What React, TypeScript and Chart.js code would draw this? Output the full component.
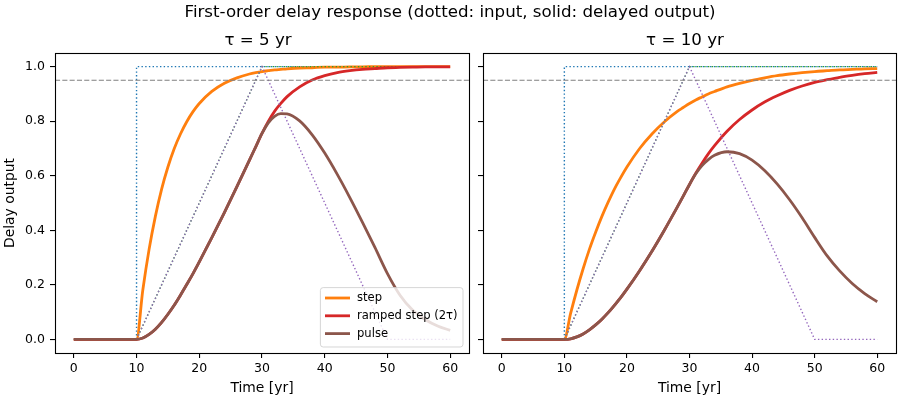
import React, { useEffect, useRef } from "react";
import { Chart, registerables } from "chart.js";

Chart.register(...registerables);

// ---------- data ----------
const TIME = [0, 10, 11, 12, 13, 14, 15, 16, 17, 18, 19, 20, 22, 24, 26, 28, 29, 30, 31, 32, 33, 34, 36, 38, 40, 42, 44, 46, 48, 50, 52, 54, 56, 58, 60];

// tau = 5 yr
const STEP_OUT_TAU5 = [0, 0, 0.181, 0.33, 0.451, 0.551, 0.632, 0.699, 0.753, 0.798, 0.835, 0.865, 0.909, 0.939, 0.959, 0.973, 0.978, 0.982, 0.985, 0.988, 0.99, 0.992, 0.995, 0.996, 0.998, 0.998, 0.999, 0.999, 1.0, 1.0, 1.0, 1.0, 1.0, 1.0, 1.0];
const RAMP_OUT_TAU5 = [0, 0, 0.005, 0.018, 0.037, 0.062, 0.092, 0.125, 0.162, 0.201, 0.241, 0.284, 0.373, 0.465, 0.56, 0.657, 0.706, 0.755, 0.799, 0.836, 0.865, 0.89, 0.926, 0.951, 0.967, 0.978, 0.985, 0.99, 0.993, 0.996, 0.997, 0.998, 0.999, 0.999, 0.999];
const PULSE_OUT_TAU5 = [0, 0, 0.005, 0.018, 0.037, 0.062, 0.092, 0.125, 0.162, 0.201, 0.241, 0.284, 0.373, 0.465, 0.56, 0.657, 0.706, 0.755, 0.794, 0.818, 0.828, 0.827, 0.801, 0.75, 0.683, 0.605, 0.52, 0.43, 0.337, 0.241, 0.162, 0.108, 0.073, 0.049, 0.033];

// tau = 10 yr
const STEP_OUT_TAU10 = [0, 0, 0.095, 0.181, 0.259, 0.33, 0.393, 0.451, 0.503, 0.551, 0.593, 0.632, 0.699, 0.753, 0.798, 0.835, 0.85, 0.865, 0.878, 0.889, 0.9, 0.909, 0.926, 0.939, 0.95, 0.959, 0.967, 0.973, 0.978, 0.982, 0.985, 0.988, 0.99, 0.992, 0.993];
const RAMP_OUT_TAU10 = [0, 0, 0.002, 0.009, 0.02, 0.035, 0.053, 0.074, 0.098, 0.125, 0.153, 0.184, 0.251, 0.323, 0.401, 0.483, 0.525, 0.568, 0.609, 0.646, 0.68, 0.71, 0.763, 0.806, 0.841, 0.87, 0.893, 0.913, 0.929, 0.942, 0.952, 0.961, 0.968, 0.974, 0.979];
const PULSE_OUT_TAU10 = [0, 0, 0.002, 0.009, 0.02, 0.035, 0.053, 0.074, 0.098, 0.125, 0.153, 0.184, 0.251, 0.323, 0.401, 0.483, 0.525, 0.568, 0.607, 0.637, 0.659, 0.675, 0.688, 0.681, 0.657, 0.619, 0.57, 0.512, 0.446, 0.374, 0.306, 0.251, 0.205, 0.168, 0.138];

// inputs (dotted)
const STEP_IN_T = [0, 10, 10, 60];
const STEP_IN_V = [0, 0, 1, 1];
const RAMP_IN_T = [0, 10, 30, 60];
const RAMP_IN_V = [0, 0, 1, 1];
const PULSE_IN_T = [0, 10, 30, 50, 60];
const PULSE_IN_V = [0, 0, 1, 0, 0];

const THRESHOLD = 0.95;
const X_TICKS = [0, 10, 20, 30, 40, 50, 60];
const Y_TICKS = [0, 0.2, 0.4, 0.6, 0.8, 1.0];
const SERIES_LABELS = ["step", "ramped step (2τ)", "pulse"];

const SUPTITLE = "First-order delay response (dotted: input, solid: delayed output)";
const PANEL_TITLES = ["τ = 5 yr", "τ = 10 yr"];
const X_TITLE = "Time [yr]";
const Y_TITLE = "Delay output";

// ---------- styling ----------
const C0 = "#1f77b4";
const C1 = "#ff7f0e";
const C2 = "#2ca02c";
const C3 = "#d62728";
const C4 = "#9467bd";
const C5 = "#8c564b";
const FONT = '"DejaVu Sans", sans-serif';

Chart.defaults.font.family = FONT;

const framePlugin = {
  id: "frame",
  afterDatasetsDraw(chart: any) {
    const { ctx, chartArea } = chart;
    ctx.save();
    ctx.strokeStyle = "#000";
    ctx.lineWidth = 1.1;
    const l = Math.floor(chartArea.left) + 0.5;
    const t = Math.floor(chartArea.top) + 0.5;
    const r = Math.floor(chartArea.right) + 0.5;
    const b = Math.floor(chartArea.bottom) + 0.5;
    ctx.strokeRect(l, t, r - l, b - t);
    ctx.restore();
  },
};

const insideLegendPlugin = {
  id: "insideLegend",
  afterDraw(chart: any) {
    const { ctx, chartArea } = chart;
    const items = [
      { label: SERIES_LABELS[0], color: C1 },
      { label: SERIES_LABELS[1], color: C3 },
      { label: SERIES_LABELS[2], color: C5 },
    ];
    const w = 142.6;
    const h = 59.4;
    const x0 = chartArea.right - 6 - w;
    const y0 = chartArea.bottom - 6 - h;
    const r = 2.8;
    ctx.save();
    ctx.beginPath();
    ctx.moveTo(x0 + r, y0);
    ctx.lineTo(x0 + w - r, y0);
    ctx.quadraticCurveTo(x0 + w, y0, x0 + w, y0 + r);
    ctx.lineTo(x0 + w, y0 + h - r);
    ctx.quadraticCurveTo(x0 + w, y0 + h, x0 + w - r, y0 + h);
    ctx.lineTo(x0 + r, y0 + h);
    ctx.quadraticCurveTo(x0, y0 + h, x0, y0 + h - r);
    ctx.lineTo(x0, y0 + r);
    ctx.quadraticCurveTo(x0, y0, x0 + r, y0);
    ctx.closePath();
    ctx.fillStyle = "rgba(255,255,255,0.8)";
    ctx.fill();
    ctx.strokeStyle = "rgba(204,204,204,0.8)";
    ctx.lineWidth = 1;
    ctx.stroke();
    items.forEach((it, i) => {
      const y = y0 + 10.4 + i * 17.8;
      ctx.beginPath();
      ctx.strokeStyle = it.color;
      ctx.lineWidth = 2.8;
      ctx.moveTo(x0 + 4.6, y);
      ctx.lineTo(x0 + 29.6, y);
      ctx.stroke();
      ctx.fillStyle = "#000";
      ctx.font = `11.57px ${FONT}`;
      ctx.textBaseline = "middle";
      ctx.textAlign = "left";
      ctx.fillText(it.label, x0 + 36.6, y);
    });
    ctx.restore();
  },
};

type PanelProps = {
  left: number;
  width: number;
  steps: number[];
  ramps: number[];
  pulses: number[];
  yLabels: boolean;
  yAxisWidth: number;
  padRight: number;
  legend: boolean;
};

function Panel(p: PanelProps) {
  const ref = useRef<HTMLCanvasElement>(null);
  useEffect(() => {
    if (!ref.current) return;
    const pts = (ts: number[], vs: number[]) => ts.map((t, i) => ({ x: t, y: vs[i] }));
    const out = (label: string, color: string, vs: number[], order: number) => ({
      label,
      data: pts(TIME, vs),
      borderColor: color,
      backgroundColor: color,
      borderWidth: 2.8,
      pointRadius: 0,
      cubicInterpolationMode: "monotone",
      fill: false,
      order,
    });
    const inp = (color: string, ts: number[], vs: number[], order: number) => ({
      label: "",
      data: pts(ts, vs),
      borderColor: color,
      backgroundColor: color,
      borderWidth: 1.4,
      borderDash: [1.4, 2.3],
      pointRadius: 0,
      tension: 0,
      fill: false,
      order,
    });
    const datasets: any[] = [
      inp(C0, STEP_IN_T, STEP_IN_V, 7),
      out(SERIES_LABELS[0], C1, p.steps, 6),
      inp(C2, RAMP_IN_T, RAMP_IN_V, 5),
      out(SERIES_LABELS[1], C3, p.ramps, 4),
      inp(C4, PULSE_IN_T, PULSE_IN_V, 3),
      out(SERIES_LABELS[2], C5, p.pulses, 2),
      {
        label: "",
        data: [
          { x: -3, y: THRESHOLD },
          { x: 63, y: THRESHOLD },
        ],
        borderColor: "#808080",
        borderWidth: 1.1,
        borderDash: [5.1, 2.2],
        pointRadius: 0,
        fill: false,
        order: 1,
      },
    ];
    const tickFont = { family: FONT, size: 12.5 };
    const titleFont = { family: FONT, size: 13.9 };
    const chart = new Chart(ref.current, {
      type: "line",
      data: { datasets },
      plugins: p.legend ? [framePlugin, insideLegendPlugin] : [framePlugin],
      options: {
        animation: false,
        responsive: false,
        devicePixelRatio: 1,
        layout: { padding: { left: 0, right: p.padRight, top: 53, bottom: 0 } },
        plugins: {
          legend: { display: false },
          title: { display: false },
          tooltip: { enabled: false },
        },
        scales: {
          x: {
            type: "linear",
            min: -3,
            max: 63,
            afterBuildTicks: (s: any) => {
              s.ticks = X_TICKS.map((v) => ({ value: v }));
            },
            afterFit: (s: any) => {
              s.height = 47;
            },
            grid: { drawOnChartArea: false, drawTicks: true, tickLength: 5, color: "#000", lineWidth: 1.1 },
            border: { display: false },
            ticks: {
              color: "#000",
              font: tickFont,
              padding: 3,
              maxRotation: 0,
              autoSkip: false,
              callback: (v: any) => String(v),
            },
            title: { display: true, text: X_TITLE, color: "#000", font: titleFont, padding: { top: 2, bottom: 3 } },
          },
          y: {
            type: "linear",
            min: -0.05,
            max: 1.05,
            afterBuildTicks: (s: any) => {
              s.ticks = Y_TICKS.map((v) => ({ value: v }));
            },
            afterFit: (s: any) => {
              s.width = p.yAxisWidth;
            },
            grid: { drawOnChartArea: false, drawTicks: true, tickLength: 5, color: "#000", lineWidth: 1.1 },
            border: { display: false },
            ticks: {
              color: "#000",
              font: tickFont,
              padding: 5,
              autoSkip: false,
              callback: (v: any) => (p.yLabels ? Number(v).toFixed(1) : ""),
            },
            title: { display: p.yLabels, text: Y_TITLE, color: "#000", font: titleFont, padding: { top: 2, bottom: 0 } },
          },
        },
      } as any,
    });
    return () => chart.destroy();
  }, []);
  return (
    <canvas
      ref={ref}
      width={p.width}
      height={400}
      style={{ position: "absolute", left: p.left, top: 0, width: p.width, height: 400 }}
    />
  );
}

const textStyle = (x: number, y: number, size: number): React.CSSProperties => ({
  position: "absolute",
  left: x,
  top: y,
  transform: "translate(-50%, -50%)",
  fontSize: size,
  lineHeight: 1,
  whiteSpace: "nowrap",
  color: "#000",
  fontFamily: FONT,
});

export default function App() {
  useEffect(() => {
    document.body.style.margin = "0";
  }, []);
  return (
    <div style={{ position: "absolute", left: 0, top: 0, width: 900, height: 400, background: "#fff", overflow: "hidden" }}>
      <Panel left={0} width={476} steps={STEP_OUT_TAU5} ramps={RAMP_OUT_TAU5} pulses={PULSE_OUT_TAU5} yLabels={true} yAxisWidth={55} padRight={7} legend={true} />
      <Panel left={476} width={424} steps={STEP_OUT_TAU10} ramps={RAMP_OUT_TAU10} pulses={PULSE_OUT_TAU10} yLabels={false} yAxisWidth={7} padRight={4} legend={false} />
      <div style={textStyle(450, 12, 16.67)}>{SUPTITLE}</div>
      <div style={textStyle(258, 40, 16.67)}>{PANEL_TITLES[0]}</div>
      <div style={textStyle(685, 40, 16.67)}>{PANEL_TITLES[1]}</div>
    </div>
  );
}
